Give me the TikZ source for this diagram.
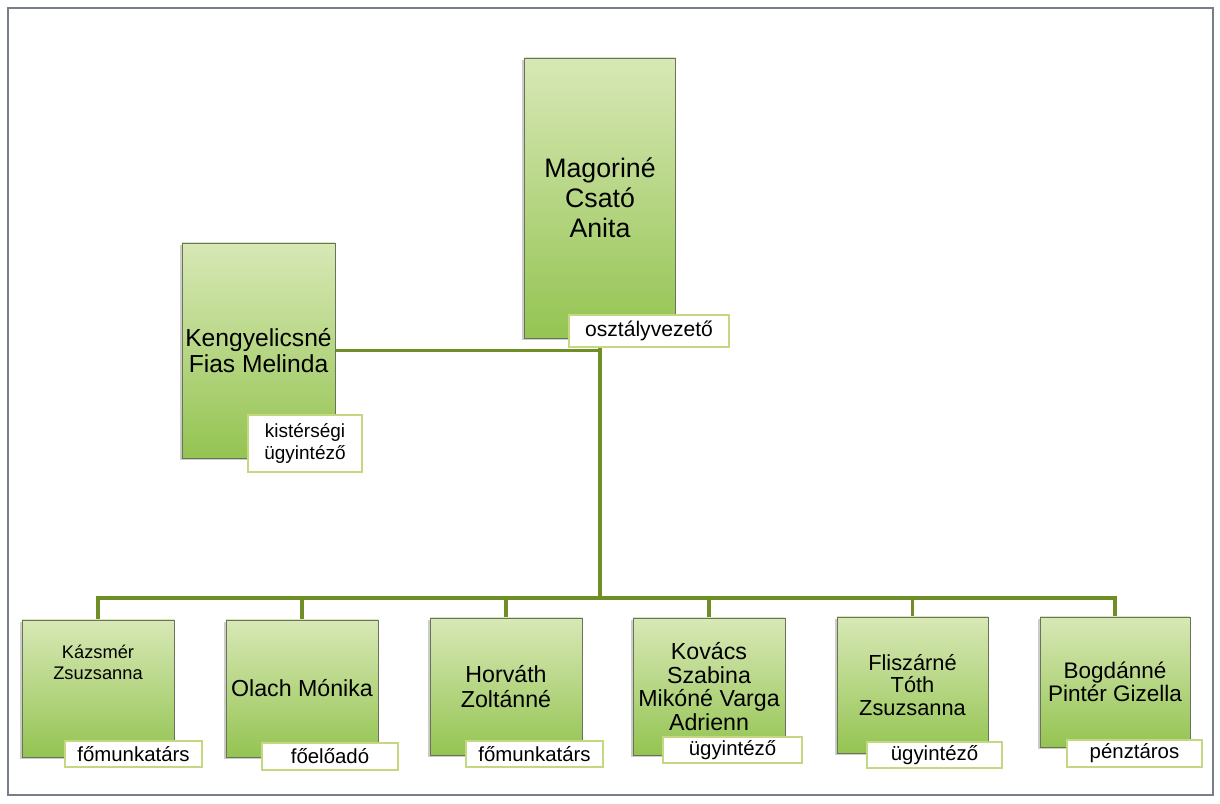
\documentclass[tikz,border=0pt]{standalone}
\usepackage{fontspec}
\setmainfont{Liberation Sans}
\usetikzlibrary{positioning,shadows,backgrounds}

\definecolor{boxtop}{RGB}{216,232,182}
\definecolor{boxbot}{RGB}{148,196,82}
\definecolor{boxline}{RGB}{105,115,90}
\definecolor{roleline}{RGB}{196,216,130}
\definecolor{connline}{RGB}{112,142,38}
\definecolor{frameline}{RGB}{120,125,140}

\begin{document}
\begin{tikzpicture}[x=0.025cm, y=-0.025cm,
    namebox/.style={draw=boxline, line width=0.6pt, top color=boxtop, bottom color=boxbot, align=center, inner sep=2pt,
      drop shadow={shadow xshift=-1.5pt, shadow yshift=-1.5pt, opacity=0.4}},
    rolebox/.style={draw=roleline, line width=1.2pt, fill=white, align=center, inner sep=1pt, font=\fontsize{14.5}{15}\selectfont},
    conn/.style={draw=connline, line width=2.8pt}]
      \useasboundingbox (0,0) rectangle (1220,803);
      \draw[frameline, line width=1.2pt] (8,8) rectangle (1213,795);

      % Head
      \node[namebox, minimum width=3.775cm, minimum height=7cm, font=\fontsize{19}{21.3}\selectfont] (head) at (600,198) {Magoriné\\Csató\\Anita};
      \node[rolebox, minimum width=4cm, minimum height=0.8cm, font=\fontsize{15}{16}\selectfont] (headrole) at (649,331) {osztályvezető};

      % Deputy
      \node[namebox, minimum width=3.825cm, minimum height=5.375cm, font=\fontsize{17.5}{19}\selectfont] (dep) at (258.5,350.5) {Kengyelicsné\\Fias Melinda};
      \node[rolebox, minimum width=2.85cm, minimum height=1.425cm, font=\fontsize{13.5}{15.5}\selectfont] (deprole) at (305,443.5) {kistérségi\\ügyintéző};

      % Staff
      \node[namebox, minimum width=3.8cm, minimum height=3.425cm] (s1) at (98,688.5) {};
      \node[align=center, font=\fontsize{13}{15}\selectfont] (s1name) at (98,662) {Kázsmér\\Zsuzsanna};
      \node[namebox, minimum width=3.8cm, minimum height=3.425cm, font=\fontsize{16.5}{18}\selectfont] (s2) at (302,688.5) {Olach Mónika};
      \node[namebox, minimum width=3.8cm, minimum height=3.425cm, font=\fontsize{16.5}{17.5}\selectfont] (s3) at (506,686.5) {Horváth\\Zoltánné};
      \node[namebox, minimum width=3.8cm, minimum height=3.425cm, font=\fontsize{16.5}{16.8}\selectfont] (s4) at (709,686.5) {Kovács\\Szabina\\Mikóné Varga\\Adrienn};
      \node[namebox, minimum width=3.775cm, minimum height=3.4cm, font=\fontsize{15.5}{16.2}\selectfont] (s5) at (912.5,685) {Fliszárné\\Tóth\\Zsuzsanna};
      \node[namebox, minimum width=3.75cm, minimum height=3.25cm, font=\fontsize{16}{16}\selectfont] (s6) at (1115,682) {Bogdánné\\Pintér Gizella};

      % Roles
      \node[rolebox, minimum width=3.425cm, minimum height=0.65cm] (r1) at (133.5,754) {főmunkatárs};
      \node[rolebox, minimum width=3.4cm, minimum height=0.675cm] (r2) at (330,756.5) {főelőadó};
      \node[rolebox, minimum width=3.425cm, minimum height=0.65cm] (r3) at (534.5,754) {főmunkatárs};
      \node[rolebox, minimum width=3.475cm, minimum height=0.65cm] (r4) at (732.5,750) {ügyintéző};
      \node[rolebox, minimum width=3.375cm, minimum height=0.65cm] (r5) at (934.5,755) {ügyintéző};
      \node[rolebox, minimum width=3.375cm, minimum height=0.675cm] (r6) at (1134.5,753.5) {pénztáros};

      % Lines
      \coordinate (bus) at (600,598);
      \begin{scope}[on background layer]
        \draw[conn] (head.south) -- (bus);
        \draw[conn] (dep.east) -- (dep.east -| head.south);
        \draw[conn] (s1.north) |- (bus);
        \draw[conn] (s2.north) |- (bus);
        \draw[conn] (s3.north) |- (bus);
        \draw[conn] (s4.north) |- (bus);
        \draw[conn] (s5.north) |- (bus);
        \draw[conn] (s6.north) |- (bus);
      \end{scope}
    \end{tikzpicture}
\end{document}
